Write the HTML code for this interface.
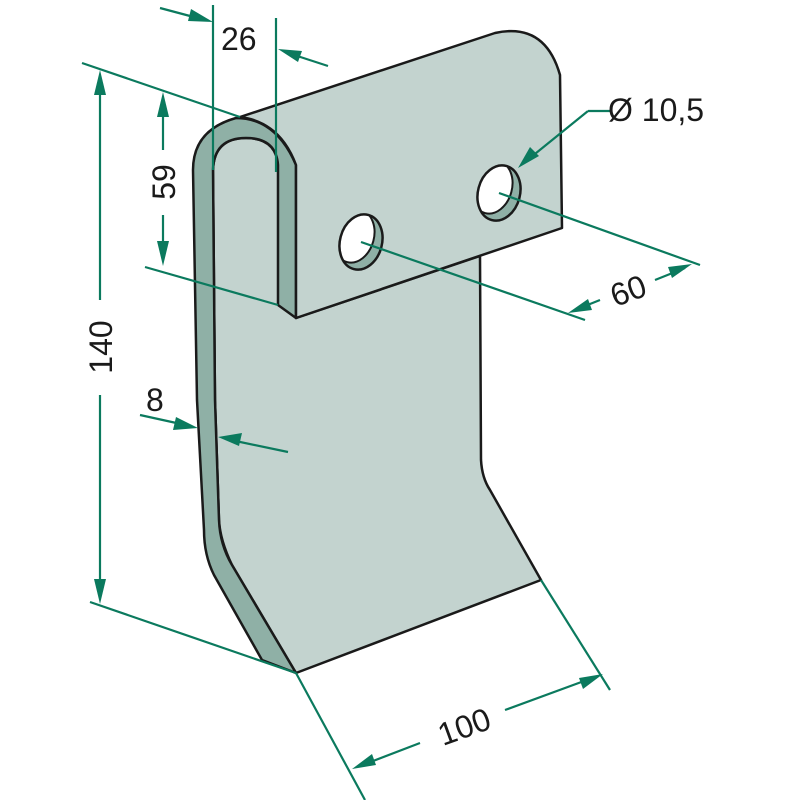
<!DOCTYPE html>
<html><head><style>html,body{margin:0;padding:0;background:#fff}svg{display:block}</style></head>
<body>
<svg width="800" height="800" viewBox="0 0 800 800" xmlns="http://www.w3.org/2000/svg">
<defs>
<clipPath id="h1"><ellipse cx="361" cy="242" rx="21" ry="28" transform="rotate(15 361 242)"/></clipPath>
<clipPath id="h2"><ellipse cx="499" cy="193" rx="21" ry="28" transform="rotate(15 499 193)"/></clipPath>
</defs>
<g stroke="#1a1a1a" stroke-width="2.5" stroke-linejoin="round">
<!-- blade front face -->
<path d="M213,170 Q214,138 246,138 Q276,138 278,165 L296,318 L480,256 L481,460 Q482,478 490,490 L541,580 L296,673 L232,565 Q220,540 219,520 L215,400 Z" fill="#c3d3cf"/>
<!-- left dark strip -->
<path d="M193,170 Q193,130 236,118 Q276,118 296,165 L296,318 L278,305 L278,165 Q276,138 246,138 Q214,138 213,170 L215,400 L219,520 Q220,545 232,565 L296,673 L262,660 L214,575 Q204,555 204,530 L197,400 Z" fill="#8fb0a6"/>
<!-- top plate -->
<path d="M240,117 L495,33 Q545,22 560,75 L562,228 L296,318 L296,165 Q280,122 240,117 Z" fill="#c3d3cf"/>
</g>
<!-- holes -->
<g clip-path="url(#h1)"><rect x="330" y="200" width="70" height="90" fill="#8fb0a6"/><ellipse cx="354" cy="236" rx="20" ry="27" transform="rotate(15 354 236)" fill="#fff" stroke="#1a1a1a" stroke-width="2"/></g>
<ellipse cx="361" cy="242" rx="21" ry="28" transform="rotate(15 361 242)" fill="none" stroke="#1a1a1a" stroke-width="2.5"/>
<g clip-path="url(#h2)"><rect x="470" y="150" width="70" height="90" fill="#8fb0a6"/><ellipse cx="492" cy="187" rx="20" ry="27" transform="rotate(15 492 187)" fill="#fff" stroke="#1a1a1a" stroke-width="2"/></g>
<ellipse cx="499" cy="193" rx="21" ry="28" transform="rotate(15 499 193)" fill="none" stroke="#1a1a1a" stroke-width="2.5"/>
<g stroke="#0b7a5e" stroke-width="2.2" fill="none">
<line x1="82" y1="63" x2="240" y2="117"/>
<line x1="90" y1="602" x2="296" y2="673"/>
<line x1="100" y1="80" x2="100" y2="300"/><line x1="100" y1="395" x2="100" y2="595"/>
<line x1="145" y1="267" x2="278" y2="305"/>
<line x1="163" y1="100" x2="163" y2="150"/><line x1="163" y1="215" x2="163" y2="258"/>
<line x1="213" y1="5" x2="213" y2="170"/><line x1="276" y1="18" x2="276" y2="172"/>
<line x1="160" y1="8" x2="205" y2="20"/><line x1="328" y1="66" x2="285" y2="52"/>
<line x1="140" y1="415" x2="190" y2="426"/><line x1="288" y1="452" x2="226" y2="439"/>
<line x1="610" y1="111" x2="588" y2="111"/><line x1="588" y1="111" x2="525" y2="162"/>
<line x1="361" y1="242" x2="585" y2="320"/><line x1="499" y1="193" x2="700" y2="265"/>
<line x1="575" y1="310" x2="600" y2="300"/><line x1="655" y1="280" x2="685" y2="268"/>
<line x1="296" y1="673" x2="365" y2="800"/><line x1="541" y1="580" x2="610" y2="690"/>
<line x1="360" y1="766" x2="420" y2="743"/><line x1="505" y1="710" x2="595" y2="677"/>
</g>
<g fill="#0b7a5e">
<polygon points="100,70 94,95 106,95"/><polygon points="100,604 94,579 106,579"/>
<polygon points="163,92 157,117 169,117"/><polygon points="163,266 157,241 169,241"/>
<polygon points="213,22 188,21 191,9"/><polygon points="278,49 302,51 298,62"/>
<polygon points="198,428 173,430 176,417"/><polygon points="218,437 242,433 239,446"/>
<polygon points="518,168 530,147 539,156"/>
<polygon points="568,313 588,299 592,310"/><polygon points="692,264 672,278 668,267"/>
<polygon points="352,769 372,754 376,765"/><polygon points="603,674 583,689 579,678"/>
</g>
<g font-family="Liberation Sans, sans-serif" font-size="32" fill="#1a1a1a">
<text x="221" y="50">26</text>
<text x="608" y="121">Ø 10,5</text>
<text transform="translate(175,182) rotate(-90)" text-anchor="middle">59</text>
<text transform="translate(112,347) rotate(-90)" text-anchor="middle">140</text>
<text x="146" y="411">8</text>
<text transform="translate(632,301) rotate(-20)" text-anchor="middle">60</text>
<text transform="translate(468,737) rotate(-20)" text-anchor="middle">100</text>
</g>
</svg>
</body></html>
